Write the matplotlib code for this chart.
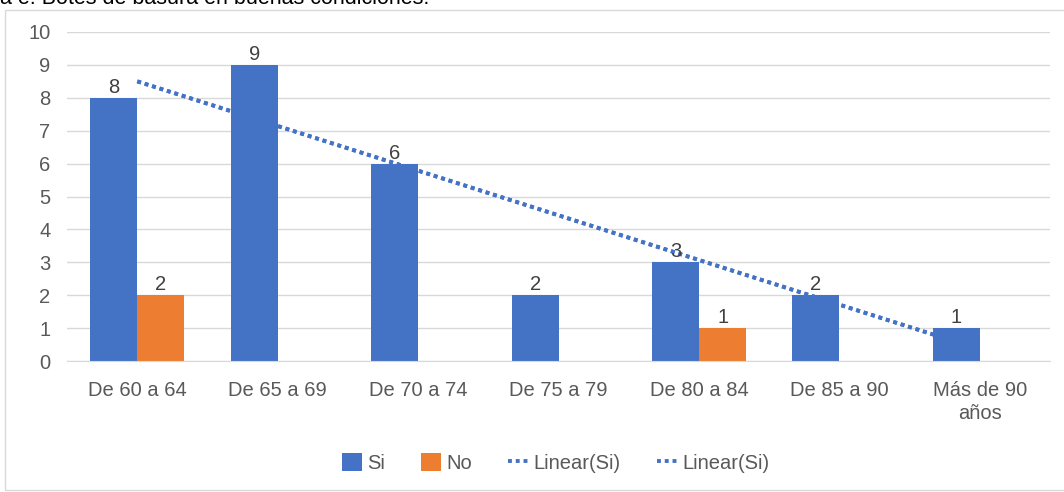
import numpy as np
import matplotlib.pyplot as plt
from matplotlib.patches import Rectangle

plt.rcParams['font.family'] = ['Liberation Sans', 'DejaVu Sans']

categorias = ['De 60 a 64', 'De 65 a 69', 'De 70 a 74', 'De 75 a 79',
              'De 80 a 84', 'De 85 a 90', 'Más de 90\naños']
si = [8, 9, 6, 2, 3, 2, 1]
no = [2, 0, 0, 0, 1, 0, 0]

azul = '#4472C4'
naranja = '#ED7D31'
gris_txt = '#595959'
fs = 14.5

fig = plt.figure(figsize=(10.64, 4.92), dpi=100)
ax = fig.add_axes([0.063, 0.266, 0.924, 0.669])

x = np.arange(len(categorias))
w = 0.335
b1 = ax.bar(x - w / 2, si, w, color=azul, label='Si', zorder=2)
b2 = ax.bar(x + w / 2, no, w, color=naranja, label='No', zorder=2)

# etiquetas de datos (solo valores distintos de cero)
for xi, v in zip(x, si):
    ax.text(xi - w / 2, v + 0.03, str(v), ha='center', va='bottom',
            fontsize=fs, color='#404040', zorder=4)
for xi, v in zip(x, no):
    if v > 0:
        ax.text(xi + w / 2, v + 0.03, str(v), ha='center', va='bottom',
                fontsize=fs, color='#404040', zorder=4)

# linea de tendencia lineal de Si (dos veces, como en el original)
m, c = np.polyfit(x, si, 1)
tx = np.array([x[0], x[-1]])
l1, = ax.plot(tx, m * tx + c, linestyle=(0, (1, 1)), color=azul, lw=2.8,
              label='Linear(Si)', zorder=3)
l2, = ax.plot(tx, m * tx + c, linestyle=(0, (1, 1)), color=azul, lw=2.8,
              label='Linear(Si)', zorder=3)

ax.set_ylim(0, 10)
ax.set_yticks(range(0, 11))
ax.set_xlim(-0.5, len(categorias) - 0.5)
ax.set_xticks(x)
ax.set_xticklabels(categorias, linespacing=1.3)
ax.grid(axis='y', color='#D9D9D9', lw=1, zorder=0)
for s in ['top', 'right', 'left']:
    ax.spines[s].set_visible(False)
ax.spines['bottom'].set_color('#D9D9D9')
ax.tick_params(axis='both', length=0, labelsize=fs, colors=gris_txt)
ax.tick_params(axis='x', pad=14)
ax.tick_params(axis='y', pad=12)

leg = fig.legend(handles=[b1, b2, l1, l2],
                 labels=['Si', 'No', 'Linear(Si)', 'Linear(Si)'],
                 loc='center', bbox_to_anchor=(0.522, 0.059), ncol=4,
                 frameon=False, fontsize=fs, handlelength=1.0,
                 handleheight=1.0, handletextpad=0.25, columnspacing=1.8)
for t in leg.get_texts():
    t.set_color(gris_txt)

# marco del grafico
fig.patches.append(Rectangle((5 / 1064, 0.004), 1.2, 0.98 - 0.004,
                             transform=fig.transFigure, fill=False,
                             edgecolor='#D9D9D9', lw=1))

# texto del documento cortado arriba
fig.text(0.0, 0.991, 'a e. Botes de basura en buenas condiciones.',
         fontsize=15.5, color='black', ha='left', va='baseline')

fig.savefig('out.png', dpi=100)
